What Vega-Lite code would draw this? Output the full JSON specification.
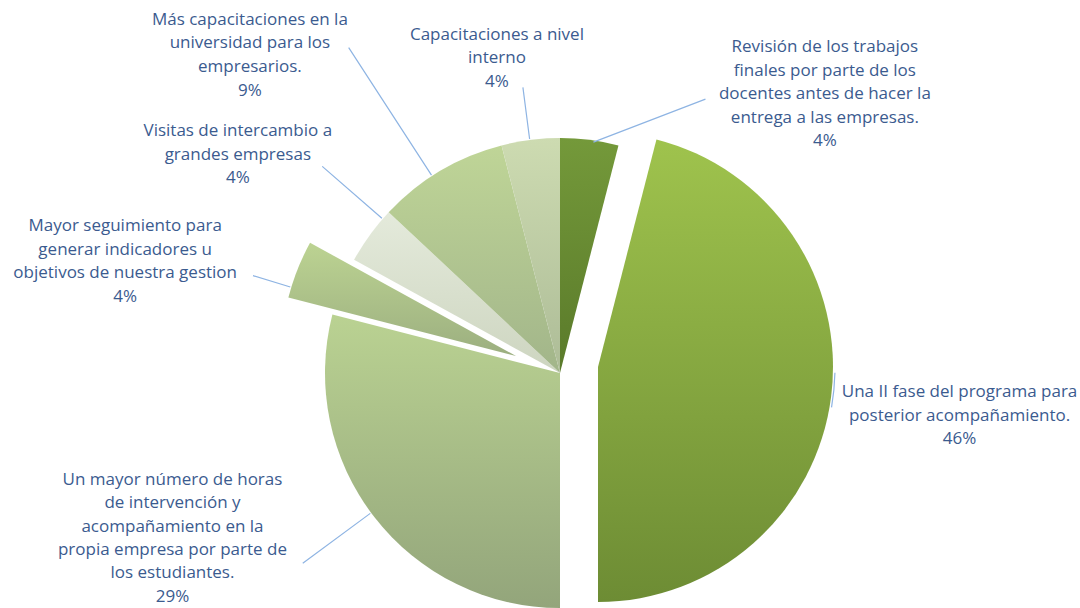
{
  "$schema": "https://vega.github.io/schema/vega-lite/v6.json",
  "width": 1040,
  "height": 470,
  "autosize": {"type": "none"},
  "padding": {"left": 40, "top": 138, "right": 0, "bottom": 0},
  "background": "white",
  "config": {"view": {"stroke": null}},
  "data": {
    "values": [
      {"order": 1, "category": "Revisión de los trabajos finales por parte de los docentes antes de hacer la entrega a las empresas.", "value": 4, "lines": ["Revisión de los trabajos", "finales por parte de los", "docentes antes de hacer la", "entrega a las empresas.", "4%"]},
      {"order": 2, "category": "Una II fase del programa para posterior acompañamiento.", "value": 46, "lines": ["Una II fase del programa para", "posterior acompañamiento.", "46%"]},
      {"order": 3, "category": "Un mayor número de horas de intervención y acompañamiento en la propia empresa por parte de los estudiantes.", "value": 29, "lines": ["Un mayor número de horas", "de intervención y", "acompañamiento en la", "propia empresa por parte de", "los estudiantes.", "29%"]},
      {"order": 4, "category": "Mayor seguimiento para generar indicadores u objetivos de nuestra gestion", "value": 4, "lines": ["Mayor seguimiento para", "generar indicadores u", "objetivos de nuestra gestion", "4%"]},
      {"order": 5, "category": "Visitas de intercambio a grandes empresas", "value": 4, "lines": ["Visitas de intercambio a", "grandes empresas", "4%"]},
      {"order": 6, "category": "Más capacitaciones en la universidad para los empresarios.", "value": 9, "lines": ["Más capacitaciones en la", "universidad para los", "empresarios.", "9%"]},
      {"order": 7, "category": "Capacitaciones a nivel interno", "value": 4, "lines": ["Capacitaciones a nivel", "interno", "4%"]}
    ]
  },
  "transform": [
    {"stack": "value", "groupby": [], "sort": [{"field": "order", "order": "ascending"}], "as": ["v0", "v1"]}
  ],
  "layer": [
    {"transform": [{"filter": "datum.order == 1"}],
     "mark": {"type": "arc", "radius": 235, "fill": {"gradient": "linear", "x1": 0, "y1": 0, "x2": 0, "y2": 1, "stops": [{"offset": 0, "color": "#74993A"}, {"offset": 1, "color": "#5A7A2A"}]}},
     "encoding": {"theta": {"field": "v0", "type": "quantitative", "stack": null, "scale": {"domain": [0, 100], "range": [0, 6.283185307179586]}}, "theta2": {"field": "v1"}}},
    {"transform": [{"filter": "datum.order == 3"}],
     "mark": {"type": "arc", "radius": 235, "fill": {"gradient": "linear", "x1": 0, "y1": 0, "x2": 0, "y2": 1, "stops": [{"offset": 0, "color": "#BAD292"}, {"offset": 1, "color": "#93A57B"}]}},
     "encoding": {"theta": {"field": "v0", "type": "quantitative", "stack": null, "scale": {"domain": [0, 100], "range": [0, 6.283185307179586]}}, "theta2": {"field": "v1"}}},
    {"transform": [{"filter": "datum.order == 5"}],
     "mark": {"type": "arc", "radius": 235, "fill": {"gradient": "linear", "x1": 0, "y1": 0, "x2": 0, "y2": 1, "stops": [{"offset": 0, "color": "#E4EADB"}, {"offset": 1, "color": "#CDD5C0"}]}},
     "encoding": {"theta": {"field": "v0", "type": "quantitative", "stack": null, "scale": {"domain": [0, 100], "range": [0, 6.283185307179586]}}, "theta2": {"field": "v1"}}},
    {"transform": [{"filter": "datum.order == 6"}],
     "mark": {"type": "arc", "radius": 235, "fill": {"gradient": "linear", "x1": 0, "y1": 0, "x2": 0, "y2": 1, "stops": [{"offset": 0, "color": "#BFD597"}, {"offset": 1, "color": "#A2B58A"}]}},
     "encoding": {"theta": {"field": "v0", "type": "quantitative", "stack": null, "scale": {"domain": [0, 100], "range": [0, 6.283185307179586]}}, "theta2": {"field": "v1"}}},
    {"transform": [{"filter": "datum.order == 7"}],
     "mark": {"type": "arc", "radius": 235, "fill": {"gradient": "linear", "x1": 0, "y1": 0, "x2": 0, "y2": 1, "stops": [{"offset": 0, "color": "#CDDBB1"}, {"offset": 1, "color": "#ADBC97"}]}},
     "encoding": {"theta": {"field": "v0", "type": "quantitative", "stack": null, "scale": {"domain": [0, 100], "range": [0, 6.283185307179586]}}, "theta2": {"field": "v1"}}},
    {"transform": [{"filter": "datum.order == 2"}],
     "mark": {"type": "arc", "radius": 235, "xOffset": 38, "yOffset": -6, "fill": {"gradient": "linear", "x1": 0, "y1": 0, "x2": 0, "y2": 1, "stops": [{"offset": 0, "color": "#9FC34D"}, {"offset": 1, "color": "#6D8C34"}]}},
     "encoding": {"theta": {"field": "v0", "type": "quantitative", "stack": null, "scale": {"domain": [0, 100], "range": [0, 6.283185307179586]}}, "theta2": {"field": "v1"}}},
    {"transform": [{"filter": "datum.order == 4"}],
     "mark": {"type": "arc", "radius": 235, "xOffset": -44, "yOffset": -17, "fill": {"gradient": "linear", "x1": 0, "y1": 0, "x2": 0, "y2": 1, "stops": [{"offset": 0, "color": "#BCD392"}, {"offset": 1, "color": "#9CAF80"}]}},
     "encoding": {"theta": {"field": "v0", "type": "quantitative", "stack": null, "scale": {"domain": [0, 100], "range": [0, 6.283185307179586]}}, "theta2": {"field": "v1"}}},

    {"transform": [{"filter": "datum.order == 1"}],
     "mark": {"type": "arc", "filled": false, "stroke": "#8EB4E3", "strokeWidth": 1.2, "radius": 234, "radius2": 114, "thetaOffset": 1.2043, "theta2Offset": 1.2043, "xOffset": -73, "yOffset": -190},
     "encoding": {"theta": {"field": "v0", "type": "quantitative", "stack": null, "scale": {"domain": [0, 100], "range": [0, 6.283185307179586]}}, "theta2": {"field": "v0"}}},
    {"transform": [{"filter": "datum.order == 2"}],
     "mark": {"type": "arc", "filled": false, "stroke": "#8EB4E3", "strokeWidth": 1.2, "radius": 237, "radius2": 237, "thetaOffset": 1.3439, "theta2Offset": 1.4905, "xOffset": 38, "yOffset": -6},
     "encoding": {"theta": {"field": "v0", "type": "quantitative", "stack": null, "scale": {"domain": [0, 100], "range": [0, 6.283185307179586]}}, "theta2": {"field": "v0"}}},
    {"transform": [{"filter": "datum.order == 3"}],
     "mark": {"type": "arc", "filled": false, "stroke": "#8EB4E3", "strokeWidth": 1.2, "radius": 320, "radius2": 236, "thetaOffset": 0.9338, "theta2Offset": 0.9338},
     "encoding": {"theta": {"field": "v0", "type": "quantitative", "stack": null, "scale": {"domain": [0, 100], "range": [0, 6.283185307179586]}}, "theta2": {"field": "v0"}}},
    {"transform": [{"filter": "datum.order == 4"}],
     "mark": {"type": "arc", "filled": false, "stroke": "#8EB4E3", "strokeWidth": 1.2, "radius": 275, "radius2": 236, "thetaOffset": 0.0454, "theta2Offset": 0.0454, "xOffset": -44, "yOffset": -17},
     "encoding": {"theta": {"field": "v0", "type": "quantitative", "stack": null, "scale": {"domain": [0, 100], "range": [0, 6.283185307179586]}}, "theta2": {"field": "v0"}}},
    {"transform": [{"filter": "datum.order == 5"}],
     "mark": {"type": "arc", "filled": false, "stroke": "#8EB4E3", "strokeWidth": 1.2, "radius": 315, "radius2": 236, "thetaOffset": 0.2129, "theta2Offset": 0.2129},
     "encoding": {"theta": {"field": "v0", "type": "quantitative", "stack": null, "scale": {"domain": [0, 100], "range": [0, 6.283185307179586]}}, "theta2": {"field": "v0"}}},
    {"transform": [{"filter": "datum.order == 6"}],
     "mark": {"type": "arc", "filled": false, "stroke": "#8EB4E3", "strokeWidth": 1.2, "radius": 388, "radius2": 236, "thetaOffset": 0.2409, "theta2Offset": 0.2409},
     "encoding": {"theta": {"field": "v0", "type": "quantitative", "stack": null, "scale": {"domain": [0, 100], "range": [0, 6.283185307179586]}}, "theta2": {"field": "v0"}}},
    {"transform": [{"filter": "datum.order == 7"}],
     "mark": {"type": "arc", "filled": false, "stroke": "#8EB4E3", "strokeWidth": 1.2, "radius": 288, "radius2": 236, "thetaOffset": 0.1222, "theta2Offset": 0.1222},
     "encoding": {"theta": {"field": "v0", "type": "quantitative", "stack": null, "scale": {"domain": [0, 100], "range": [0, 6.283185307179586]}}, "theta2": {"field": "v0"}}},

    {"transform": [{"filter": "datum.order == 1"}],
     "mark": {"type": "text", "radius": 420, "thetaOffset": 0.6824, "align": "center", "baseline": "middle", "font": "Open Sans", "fontSize": 17, "lineHeight": 23.6, "fill": "#3B5B8F"},
     "encoding": {"theta": {"field": "v0", "type": "quantitative", "stack": null, "scale": {"domain": [0, 100], "range": [0, 6.283185307179586]}}, "text": {"field": "lines"}}},
    {"transform": [{"filter": "datum.order == 2"}],
     "mark": {"type": "text", "radius": 400, "thetaOffset": 1.367, "align": "center", "baseline": "middle", "font": "Open Sans", "fontSize": 17, "lineHeight": 23.6, "fill": "#3B5B8F"},
     "encoding": {"theta": {"field": "v0", "type": "quantitative", "stack": null, "scale": {"domain": [0, 100], "range": [0, 6.283185307179586]}}, "text": {"field": "lines"}}},
    {"transform": [{"filter": "datum.order == 3"}],
     "mark": {"type": "text", "radius": 402, "thetaOffset": 1.3017, "align": "center", "baseline": "middle", "font": "Open Sans", "fontSize": 17, "lineHeight": 23.4, "fill": "#3B5B8F"},
     "encoding": {"theta": {"field": "v0", "type": "quantitative", "stack": null, "scale": {"domain": [0, 100], "range": [0, 6.283185307179586]}}, "text": {"field": "lines"}}},
    {"transform": [{"filter": "datum.order == 4"}],
     "mark": {"type": "text", "radius": 459, "thetaOffset": 0.0745, "align": "center", "baseline": "middle", "font": "Open Sans", "fontSize": 17, "lineHeight": 23.6, "fill": "#3B5B8F"},
     "encoding": {"theta": {"field": "v0", "type": "quantitative", "stack": null, "scale": {"domain": [0, 100], "range": [0, 6.283185307179586]}}, "text": {"field": "lines"}}},
    {"transform": [{"filter": "datum.order == 5"}],
     "mark": {"type": "text", "radius": 403, "thetaOffset": 0.1417, "align": "center", "baseline": "middle", "font": "Open Sans", "fontSize": 17, "lineHeight": 23.6, "fill": "#3B5B8F"},
     "encoding": {"theta": {"field": "v0", "type": "quantitative", "stack": null, "scale": {"domain": [0, 100], "range": [0, 6.283185307179586]}}, "text": {"field": "lines"}}},
    {"transform": [{"filter": "datum.order == 6"}],
     "mark": {"type": "text", "radius": 470, "thetaOffset": 0.0963, "align": "center", "baseline": "middle", "font": "Open Sans", "fontSize": 17, "lineHeight": 23.6, "fill": "#3B5B8F"},
     "encoding": {"theta": {"field": "v0", "type": "quantitative", "stack": null, "scale": {"domain": [0, 100], "range": [0, 6.283185307179586]}}, "text": {"field": "lines"}}},
    {"transform": [{"filter": "datum.order == 7"}],
     "mark": {"type": "text", "radius": 344, "thetaOffset": 0.067, "align": "center", "baseline": "middle", "font": "Open Sans", "fontSize": 17, "lineHeight": 23.6, "fill": "#3B5B8F"},
     "encoding": {"theta": {"field": "v0", "type": "quantitative", "stack": null, "scale": {"domain": [0, 100], "range": [0, 6.283185307179586]}}, "text": {"field": "lines"}}}
  ]
}
